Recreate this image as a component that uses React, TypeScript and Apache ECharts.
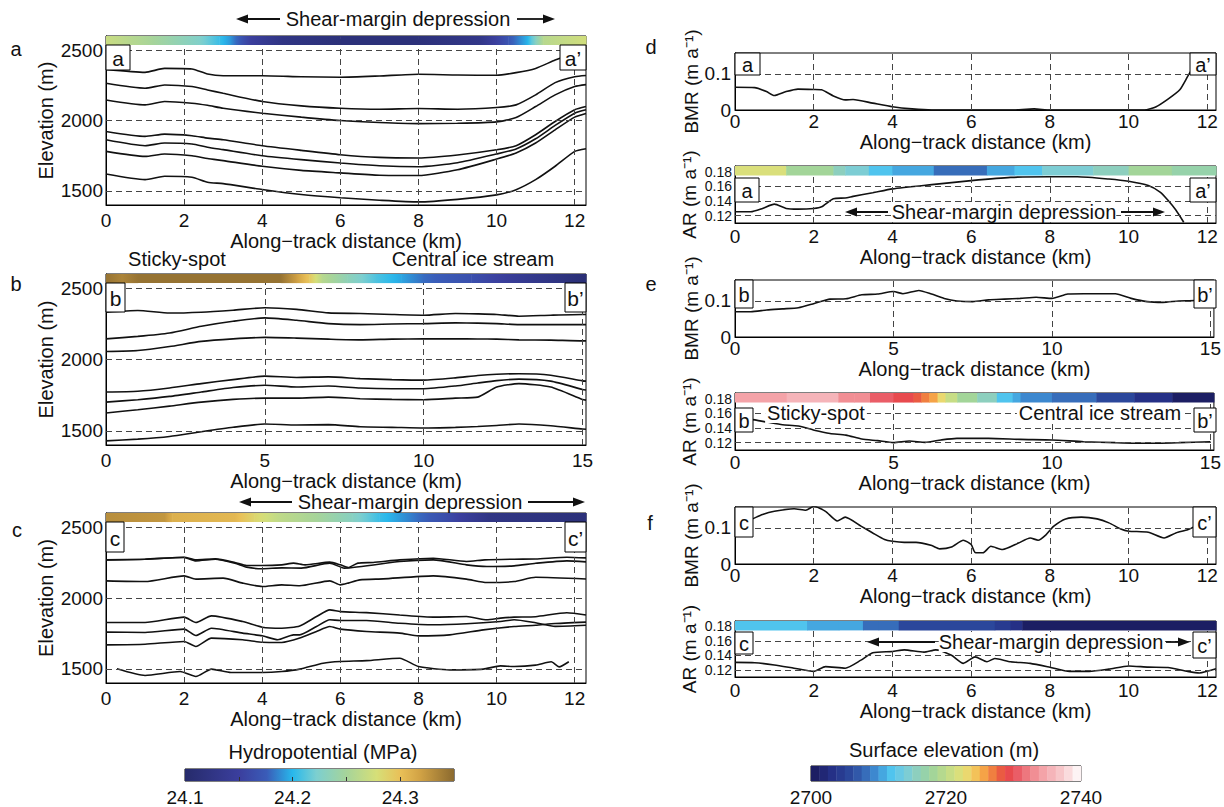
import React, { useEffect, useRef } from "react";
import * as echarts from "echarts";

const FONT = '"Liberation Sans", Arial, Helvetica, sans-serif';
const INK = "#111";

// ---------------- Panel a (elevation of layers, km / m) ----------------
const kmA = [0, 1, 1.5, 2.2, 2.6, 3, 4, 5, 6, 7, 8, 9, 10, 10.5, 11, 11.5, 12, 12.29];
const a1 = [2363, 2342, 2370, 2366, 2330, 2318, 2318, 2311, 2307, 2316, 2328, 2323, 2321, 2340, 2370, 2429, 2480, 2500];
const a2 = [2264, 2229, 2252, 2241, 2217, 2193, 2135, 2104, 2087, 2080, 2085, 2080, 2092, 2111, 2182, 2269, 2311, 2320];
const a3 = [2146, 2111, 2135, 2123, 2108, 2087, 2052, 2024, 2000, 1986, 1978, 1980, 1990, 2021, 2099, 2182, 2241, 2255];
const a4 = [1922, 1887, 1903, 1892, 1875, 1863, 1821, 1788, 1757, 1738, 1734, 1755, 1792, 1821, 1899, 1993, 2076, 2099];
const a5 = [1863, 1821, 1840, 1833, 1810, 1793, 1750, 1722, 1698, 1679, 1672, 1700, 1762, 1798, 1870, 1965, 2052, 2076];
const a6 = [1781, 1745, 1762, 1750, 1730, 1715, 1675, 1646, 1628, 1611, 1609, 1650, 1726, 1769, 1840, 1934, 2024, 2050];
const a7 = [1620, 1580, 1604, 1597, 1562, 1552, 1510, 1474, 1451, 1434, 1422, 1440, 1472, 1509, 1580, 1675, 1781, 1800];

// ---------------- Panel b ----------------
const kmB = [0, 1, 2, 3, 4, 5, 6, 7, 8, 9, 10, 11, 11.7, 12.3, 13, 14, 15, 15.11];
const b1 = [2332, 2344, 2326, 2332, 2346, 2363, 2352, 2327, 2323, 2316, 2311, 2323, 2320, 2316, 2304, 2311, 2316, 2316];
const b2 = [2145, 2162, 2186, 2233, 2268, 2292, 2275, 2252, 2245, 2249, 2252, 2257, 2255, 2252, 2245, 2245, 2245, 2245];
const b3 = [2056, 2063, 2091, 2127, 2145, 2155, 2150, 2143, 2138, 2143, 2145, 2145, 2144, 2143, 2138, 2136, 2131, 2131];
const b4 = [1772, 1777, 1800, 1831, 1859, 1883, 1874, 1878, 1866, 1859, 1855, 1871, 1888, 1897, 1900, 1890, 1850, 1848];
const b5 = [1701, 1718, 1741, 1772, 1803, 1819, 1807, 1814, 1800, 1795, 1795, 1814, 1835, 1852, 1862, 1848, 1790, 1786];
const b6 = [1625, 1647, 1673, 1701, 1720, 1729, 1729, 1736, 1725, 1720, 1718, 1729, 1736, 1807, 1831, 1807, 1720, 1715];
const b7 = [1429, 1441, 1460, 1493, 1524, 1547, 1540, 1543, 1528, 1524, 1519, 1524, 1530, 1537, 1547, 1535, 1512, 1511];

// ---------------- Panel c ----------------
const c1aKm = [0, 1, 2, 2.3, 2.8, 3.3, 3.6, 4, 4.5, 4.8, 5.1, 5.73, 6, 6.2, 6.45, 6.84, 7.52, 8.38, 9.23, 9.7, 10.45, 11, 11.8, 12.29];
const c1a = [2269, 2274, 2288, 2269, 2276, 2251, 2229, 2229, 2234, 2246, 2234, 2253, 2234, 2215, 2246, 2251, 2269, 2281, 2258, 2269, 2274, 2275, 2288, 2283];
const c1bKm = [0, 1, 2, 2.3, 2.8, 3.3, 3.6, 4, 4.5, 5, 5.73, 6.1, 7.52, 8.38, 9.23, 9.75, 10.45, 11, 11.8, 12.29];
const c1b = [2269, 2274, 2286, 2262, 2274, 2246, 2218, 2206, 2213, 2211, 2246, 2211, 2258, 2269, 2234, 2222, 2227, 2245, 2262, 2255];
const c2Km = [0, 1, 2, 2.3, 3, 3.5, 4, 4.5, 4.96, 5.73, 6, 6.2, 6.5, 7.1, 8.38, 9.23, 9.75, 10.45, 11, 12.29];
const c2 = [2121, 2116, 2156, 2133, 2140, 2105, 2081, 2093, 2086, 2121, 2093, 2105, 2128, 2135, 2156, 2133, 2109, 2116, 2146, 2134];
const c3Km = [0, 1, 2, 2.3, 2.7, 3.5, 4, 4.5, 4.96, 5.39, 5.73, 6, 6.67, 7.52, 8.38, 9.23, 9.75, 10.1, 10.45, 11, 11.8, 12.29];
const c3 = [1827, 1827, 1865, 1827, 1874, 1834, 1794, 1787, 1803, 1869, 1916, 1904, 1897, 1880, 1865, 1869, 1846, 1858, 1865, 1868, 1896, 1880];
const c4Km = [0, 1, 2, 2.3, 2.7, 3.5, 4, 4.4, 4.8, 4.96, 5.39, 5.73, 6, 6.67, 7.52, 8.38, 9.23, 10.1, 10.45, 11, 11.5, 12.29];
const c4 = [1759, 1757, 1780, 1735, 1787, 1752, 1733, 1705, 1740, 1740, 1799, 1846, 1841, 1841, 1822, 1811, 1818, 1834, 1846, 1825, 1800, 1808];
const c5Km = [0, 1, 2, 2.3, 2.7, 3.5, 4, 4.5, 4.96, 5.39, 5.73, 6, 6.67, 7.52, 8, 8.8, 9.66, 10.45, 11, 11.5, 12.29];
const c5 = [1669, 1674, 1693, 1658, 1717, 1705, 1688, 1686, 1717, 1764, 1799, 1780, 1764, 1752, 1733, 1740, 1775, 1799, 1808, 1820, 1830];
const c6Km = [0.28, 1, 1.9, 2.3, 2.7, 3.2, 4, 4.5, 4.96, 5.56, 6, 6.67, 7.52, 8, 8.8, 9.66, 10.1, 10.45, 11, 11.4, 11.6, 11.85];
const c6 = [1500, 1453, 1481, 1446, 1498, 1474, 1474, 1481, 1498, 1540, 1552, 1558, 1575, 1516, 1493, 1498, 1521, 1516, 1526, 1550, 1514, 1550];

// ---------------- Panel d (BMR / AR) ----------------
const dBmrKm = [0, 0.5, 0.8, 1, 1.3, 1.6, 2, 2.2, 2.5, 2.8, 3, 3.5, 4, 4.5, 5, 7, 7.6, 8, 10.4, 10.7, 11, 11.3, 11.5, 11.7];
const dBmr = [0.063, 0.062, 0.051, 0.04, 0.051, 0.058, 0.057, 0.056, 0.039, 0.028, 0.029, 0.019, 0.009, 0.003, 0, 0, 0.003, 0, 0, 0.009, 0.03, 0.056, 0.093, 0.13];
const dArKm = [0, 0.4, 0.7, 1, 1.3, 1.6, 2, 2.2, 2.5, 2.8, 3, 3.5, 4, 5, 6, 7, 8, 8.7, 9.5, 10, 10.5, 10.8, 11, 11.2, 11.4];
const dAr = [0.1253, 0.1253, 0.1298, 0.1356, 0.1298, 0.1289, 0.1298, 0.132, 0.1431, 0.144, 0.1462, 0.1511, 0.1564, 0.1622, 0.1676, 0.172, 0.1729, 0.1729, 0.1698, 0.1667, 0.1609, 0.152, 0.1409, 0.1276, 0.111];

// ---------------- Panel e ----------------
const eBmrKm = [0, 0.5, 1, 1.5, 2, 2.5, 3, 3.5, 4, 4.5, 5, 5.3, 5.8, 6.2, 6.6, 7, 7.5, 8, 8.5, 9, 9.5, 10, 10.5, 11, 12, 12.5, 13, 13.5, 14, 14.5, 15];
const eBmr = [0.07, 0.07, 0.075, 0.078, 0.081, 0.093, 0.105, 0.106, 0.117, 0.119, 0.126, 0.12, 0.129, 0.119, 0.107, 0.1, 0.098, 0.103, 0.105, 0.107, 0.11, 0.107, 0.119, 0.12, 0.12, 0.107, 0.098, 0.096, 0.1, 0.101, 0.107];
const eArKm = [0, 0.5, 1, 1.5, 2, 2.5, 3, 3.5, 4, 4.5, 5, 5.5, 6, 6.5, 7, 8, 9, 10, 11, 12, 13, 14, 15];
const eAr = [0.1524, 0.1516, 0.148, 0.1444, 0.1427, 0.1369, 0.1324, 0.1302, 0.1249, 0.1227, 0.12, 0.1222, 0.1204, 0.1236, 0.1258, 0.1258, 0.1244, 0.1236, 0.1213, 0.12, 0.1191, 0.12, 0.1213];

// ---------------- Panel f ----------------
const fBmrKm = [0, 0.3, 0.7, 1, 1.5, 1.8, 2, 2.3, 2.6, 2.8, 3.2, 3.5, 3.8, 4, 4.3, 4.6, 5, 5.2, 5.5, 5.8, 6, 6.1, 6.3, 6.5, 6.8, 7.2, 7.5, 7.7, 7.9, 8.1, 8.4, 8.8, 9.2, 9.5, 9.8, 10, 10.5, 10.9, 11.2, 11.5, 11.7];
const fBmr = [0.114, 0.119, 0.137, 0.146, 0.153, 0.149, 0.16, 0.146, 0.119, 0.13, 0.105, 0.086, 0.068, 0.063, 0.06, 0.06, 0.051, 0.042, 0.047, 0.066, 0.054, 0.032, 0.031, 0.049, 0.04, 0.058, 0.072, 0.066, 0.081, 0.105, 0.125, 0.13, 0.125, 0.114, 0.097, 0.091, 0.088, 0.072, 0.086, 0.095, 0.105];
const fArKm = [0, 0.5, 1, 1.5, 2, 2.3, 2.8, 3.2, 3.5, 4, 4.3, 4.8, 5.1, 5.5, 5.8, 6.1, 6.4, 6.6, 7, 7.5, 8, 8.5, 9, 9.5, 10, 10.5, 11, 11.5, 11.8, 12.22];
const fAr = [0.1302, 0.1298, 0.1267, 0.1222, 0.1178, 0.1244, 0.1222, 0.1333, 0.1436, 0.1453, 0.1476, 0.1444, 0.1476, 0.14, 0.1289, 0.1378, 0.1311, 0.1356, 0.1311, 0.1289, 0.1236, 0.1178, 0.1178, 0.1209, 0.1253, 0.1236, 0.1231, 0.1178, 0.1156, 0.1213];

// ---------------- colour strips along track ----------------
// hydropotential (MPa) along tracks a, b, c
const stripAKm = [0, 1.2, 2.4, 2.9, 3.2, 3.7, 4.5, 6, 8, 9.6, 10.3, 10.8, 11.2, 12.29];
const stripAHp = [24.27, 24.25, 24.225, 24.205, 24.19, 24.15, 24.125, 24.115, 24.115, 24.13, 24.17, 24.2, 24.26, 24.275];
const stripBKm = [0, 0.5, 1, 5.5, 6.0, 6.4, 6.8, 7.6, 8.5, 9.3, 10, 11.5, 13, 15.11];
const stripBHp = [24.345, 24.335, 24.345, 24.345, 24.32, 24.295, 24.26, 24.235, 24.21, 24.195, 24.18, 24.165, 24.14, 24.11];
const stripCKm = [0, 1.5, 1.7, 3.3, 3.8, 4.4, 5.4, 6.3, 7.0, 7.8, 8.8, 9.8, 12.29];
const stripCHp = [24.33, 24.325, 24.31, 24.305, 24.285, 24.265, 24.25, 24.23, 24.205, 24.185, 24.16, 24.125, 24.115];
// surface elevation (m) along tracks a, b, c (segment edges + value per segment)
const stripDEdges = [0, 1.3, 2.5, 2.8, 3.4, 4.0, 5.05, 6.4, 7.1, 7.8, 9.1, 10.0, 11.1, 12.22];
const stripDElev = [2721.5, 2718.5, 2716, 2714.5, 2712, 2710.5, 2707.7, 2710, 2712, 2714.5, 2716, 2717.5, 2716.5];
const stripEEdges = [0, 1.63, 3.26, 3.76, 4.26, 5.0, 5.63, 5.88, 6.13, 6.39, 6.64, 7.01, 7.64, 8.26, 8.76, 9.01, 10.0, 11.4, 12.6, 13.8, 15.11];
const stripEElev = [2734.5, 2736, 2733.5, 2732.5, 2731, 2729, 2728, 2726.5, 2725, 2723, 2721, 2718, 2715.5, 2712, 2710.5, 2709, 2707.5, 2705, 2703, 2701];
const stripFEdges = [0, 1.83, 2.64, 3.25, 3.65, 4.16, 6.6, 7.0, 7.3, 12.22];
const stripFElev = [2712, 2711, 2710, 2708.5, 2707.5, 2706, 2704.5, 2703.5, 2701];

// ---------------- colour scales ----------------
const hydroStops: [number, string][] = [
  [24.1, "#262b6b"], [24.151, "#3b3f9e"], [24.176, "#3a5cb8"], [24.2, "#28b8ec"], [24.222, "#7ccfd0"],
  [24.25, "#a6d49a"], [24.278, "#d6df78"], [24.3, "#e9c058"], [24.318, "#d2a345"], [24.35, "#8b6a2f"],
];
const hydroTicks = [24.15, 24.2, 24.25, 24.3];
const hydroLabels = [24.1, 24.2, 24.3];
const surfStops: [number, string][] = [
  [2700, "#1a1a5a"], [2703, "#252f85"], [2706, "#2c4a9e"], [2707.75, "#3565b4"], [2709.7, "#3f8fd4"],
  [2711.7, "#4cc3ef"], [2713.7, "#74cbe0"], [2715.5, "#8ccfc0"], [2717.6, "#9bd39e"], [2719.6, "#b8da8c"],
  [2721.6, "#d6e07e"], [2723.6, "#f0d66a"], [2725, "#f6b24c"], [2726.3, "#f39241"], [2727.5, "#ec6a3f"],
  [2729, "#e84646"], [2730, "#e8505a"], [2731.5, "#ec7078"], [2734, "#f39ea3"], [2737.4, "#f8cdd0"], [2740, "#ffffff"],
];
const surfBinCount = 32;
const surfLabels = [2700, 2720, 2740];

function hex2rgb(h: string) {
  const n = parseInt(h.slice(1), 16);
  return [(n >> 16) & 255, (n >> 8) & 255, n & 255];
}
function interp(stops: [number, string][], v: number) {
  if (v <= stops[0][0]) return stops[0][1];
  const last = stops[stops.length - 1];
  if (v >= last[0]) return last[1];
  for (let i = 0; i < stops.length - 1; i++) {
    const [v0, c0] = stops[i];
    const [v1, c1] = stops[i + 1];
    if (v >= v0 && v <= v1) {
      const t = (v - v0) / (v1 - v0);
      const a = hex2rgb(c0), b = hex2rgb(c1);
      const r = a.map((x, k) => Math.round(x + (b[k] - x) * t));
      return `rgb(${r[0]},${r[1]},${r[2]})`;
    }
  }
  return last[1];
}
const hydroColor = (v: number) => interp(hydroStops, v);
const surfStep = (2740 - 2700) / surfBinCount;
const surfColor = (v: number) => {
  const idx = Math.min(surfBinCount - 1, Math.max(0, Math.floor((v - 2700) / surfStep)));
  return interp(surfStops, 2700 + (idx + 0.5) * surfStep);
};

const zip = (xs: number[], ys: number[]) => xs.map((x, i) => [x, ys[i]]);

function buildOption() {
  const grids = [
    { left: 106, top: 36, width: 480, height: 169 },
    { left: 106, top: 274, width: 480, height: 171 },
    { left: 106, top: 513, width: 480, height: 170 },
    { left: 735, top: 53, width: 481, height: 57 },
    { left: 735, top: 166, width: 481, height: 57 },
    { left: 735, top: 280, width: 481, height: 57 },
    { left: 735, top: 393, width: 481, height: 57 },
    { left: 735, top: 507, width: 481, height: 57 },
    { left: 735, top: 621, width: 481, height: 56 },
    { left: 185, top: 769, width: 269, height: 15 },
    { left: 811, top: 766, width: 270, height: 15 },
  ].map((g) => ({ ...g, show: true, borderColor: "#000", borderWidth: 1, backgroundColor: "transparent" }));

  const ticks12 = [0, 2, 4, 6, 8, 10, 12];
  const ticks15 = [0, 5, 10, 15];
  const fmt = (v: number) => String(Math.round(v * 1000) / 1000);

  const xAx = (gi: number, max: number, ticks: number[], size: number, margin: number, gap: number) => ({
    type: "value", gridIndex: gi, min: 0, max,
    axisLine: { show: true, onZero: false, lineStyle: { color: "#000", width: 1 } },
    axisTick: { show: true, inside: true, length: 4, customValues: ticks, lineStyle: { color: "#000" } },
    axisLabel: { show: true, customValues: ticks, showMinLabel: true, showMaxLabel: true, fontSize: size, fontFamily: FONT, color: INK, margin, formatter: fmt },
    splitLine: { show: false },
    name: "Along\u2212track distance (km)", nameLocation: "middle", nameGap: gap,
    nameTextStyle: { fontSize: 20, fontFamily: FONT, color: INK },
  });
  const yAx = (gi: number, min: number, max: number, ticks: number[], labels: number[], size: number, margin: number, name: string, gap: number, nameSize: number, f: (v: number) => string) => ({
    type: "value", gridIndex: gi, min, max,
    axisLine: { show: true, onZero: false, lineStyle: { color: "#000", width: 1 } },
    axisTick: { show: true, inside: true, length: 4, customValues: ticks, lineStyle: { color: "#000" } },
    axisLabel: { show: true, customValues: labels, showMinLabel: true, showMaxLabel: true, fontSize: size, fontFamily: FONT, color: INK, margin, formatter: f },
    splitLine: { show: false },
    name, nameLocation: "middle", nameGap: gap,
    nameTextStyle: { fontSize: nameSize, fontFamily: FONT, color: INK },
  });
  // secondary label-only axis (the AR labels are packed tighter than one axis allows)
  const yLabelsOnly = (gi: number, min: number, max: number, labels: number[], size: number, margin: number, f: (v: number) => string) => ({
    type: "value", gridIndex: gi, min, max, position: "left",
    axisLine: { show: false }, axisTick: { show: false }, splitLine: { show: false },
    axisLabel: { show: true, customValues: labels, showMinLabel: true, showMaxLabel: true, fontSize: size, fontFamily: FONT, color: INK, margin, formatter: f },
  });

  const elevTicks = [1500, 2000, 2500];
  const bmrTicks = [0, 0.1];
  const arTicks = [0.12, 0.14, 0.16, 0.18];
  const arLabelsA = [0.12, 0.16];
  const arLabelsB = [0.14, 0.18];
  const AR_MIN = 0.11, AR_MAX = 0.1875, AR_STRIP = 0.1745;
  const BMR_MAX = 0.158;
  const EL_MIN = 1400, EL_MAX = 2600, EL_STRIP = 2536;
  const AR_FS = 14;
  const bmrName = "BMR (m a\u207B\u00B9)";
  const arName = "AR (m a\u207B\u00B9)";
  const fmtBmr = (v: number) => (v === 0 ? "0" : "0.1");
  const fmtAr = (v: number) => v.toFixed(2);

  const xAxis: any[] = [
    xAx(0, 12.29, ticks12, 19, 6, 22),
    xAx(1, 15.11, ticks15, 19, 6, 25),
    xAx(2, 12.29, ticks12, 19, 6, 24),
    xAx(3, 12.22, ticks12, 19, 2, 18),
    xAx(4, 12.22, ticks12, 19, 4, 22),
    xAx(5, 15.11, ticks15, 19, 2, 18),
    xAx(6, 15.11, ticks15, 19, 3, 23),
    xAx(7, 12.22, ticks12, 19, 2, 20),
    xAx(8, 12.22, ticks12, 19, 4, 24),
    {
      type: "value", gridIndex: 9, min: 24.1, max: 24.35, z: 5,
      axisLine: { show: false },
      axisTick: { show: true, inside: true, length: 4, customValues: hydroTicks, lineStyle: { color: "#333" } },
      axisLabel: { show: true, customValues: hydroLabels, showMinLabel: true, showMaxLabel: true, fontSize: 19, fontFamily: FONT, color: INK, margin: 7, formatter: (v: number) => v.toFixed(1) },
      splitLine: { show: false },
    },
    {
      type: "value", gridIndex: 10, min: 2700, max: 2740,
      axisLine: { show: false },
      axisTick: { show: false },
      axisLabel: { show: true, customValues: surfLabels, showMinLabel: true, showMaxLabel: true, fontSize: 19, fontFamily: FONT, color: INK, margin: 7, formatter: (v: number) => String(v) },
      splitLine: { show: false },
    },
  ];
  const yAxis: any[] = [
    yAx(0, EL_MIN, EL_MAX, elevTicks, elevTicks, 19, 3, "Elevation (m)", 50, 20, fmt),
    yAx(1, EL_MIN, EL_MAX, elevTicks, elevTicks, 19, 3, "Elevation (m)", 50, 20, fmt),
    yAx(2, EL_MIN, EL_MAX, elevTicks, elevTicks, 19, 3, "Elevation (m)", 50, 20, fmt),
    yAx(3, 0, BMR_MAX, bmrTicks, bmrTicks, 19, 4, bmrName, 32, 19, fmtBmr),
    yAx(4, AR_MIN, AR_MAX, arTicks, arLabelsA, AR_FS, 3, arName, 36, 19, fmtAr),
    yAx(5, 0, BMR_MAX, bmrTicks, bmrTicks, 19, 4, bmrName, 32, 19, fmtBmr),
    yAx(6, AR_MIN, AR_MAX, arTicks, arLabelsA, AR_FS, 3, arName, 36, 19, fmtAr),
    yAx(7, 0, BMR_MAX, bmrTicks, bmrTicks, 19, 4, bmrName, 32, 19, fmtBmr),
    yAx(8, AR_MIN, AR_MAX, arTicks, arLabelsA, AR_FS, 3, arName, 36, 19, fmtAr),
    { type: "value", gridIndex: 9, min: 0, max: 1, show: false },
    { type: "value", gridIndex: 10, min: 0, max: 1, show: false },
    yLabelsOnly(4, AR_MIN, AR_MAX, arLabelsB, AR_FS, 3, fmtAr),
    yLabelsOnly(6, AR_MIN, AR_MAX, arLabelsB, AR_FS, 3, fmtAr),
    yLabelsOnly(8, AR_MIN, AR_MAX, arLabelsB, AR_FS, 3, fmtAr),
  ];

  const series: any[] = [];
  const gridLines = (vx: number[], hy: number[]) => ({
    silent: true, symbol: ["none", "none"], label: { show: false }, animation: false,
    emphasis: { disabled: true },
    lineStyle: { type: [6, 4], color: "#444", width: 1 },
    data: [...vx.map((v) => ({ xAxis: v })), ...hy.map((v) => ({ yAxis: v }))],
  });
  const addLines = (gi: number, lines: number[][][], vx: number[], hy: number[]) => {
    lines.forEach((pts, k) => {
      const s: any = {
        type: "line", xAxisIndex: gi, yAxisIndex: gi, data: pts, symbol: "none", showSymbol: false,
        smooth: 0.2, silent: true, z: 3, clip: true,
        lineStyle: { color: INK, width: 1.6 }, emphasis: { disabled: true },
      };
      if (k === 0) s.markLine = gridLines(vx, hy);
      series.push(s);
    });
  };
  const grid12 = [2, 4, 6, 8, 10, 12];
  const grid15 = [5, 10, 15];

  addLines(0, [a1, a2, a3, a4, a5, a6, a7].map((y) => zip(kmA, y)), grid12, elevTicks);
  addLines(1, [b1, b2, b3, b4, b5, b6, b7].map((y) => zip(kmB, y)), grid15, elevTicks);
  addLines(2, [zip(c1aKm, c1a), zip(c1bKm, c1b), zip(c2Km, c2), zip(c3Km, c3), zip(c4Km, c4), zip(c5Km, c5), zip(c6Km, c6)], grid12, elevTicks);
  addLines(3, [zip(dBmrKm, dBmr)], grid12, [0.1]);
  addLines(4, [zip(dArKm, dAr)], grid12, [0.12, 0.14, 0.16]);
  addLines(5, [zip(eBmrKm, eBmr)], grid15, [0.1]);
  addLines(6, [zip(eArKm, eAr)], grid15, [0.12, 0.14, 0.16]);
  addLines(7, [zip(fBmrKm, fBmr)], grid12, [0.1]);
  addLines(8, [zip(fArKm, fAr)], grid12, [0.12, 0.14, 0.16]);

  // hydropotential strips (continuous)
  const hydroStrip = (gi: number, km: number[], hp: number[], yb: number, yt: number) => {
    const data = km.slice(0, -1).map((x, i) => [x, km[i + 1], hp[i], hp[i + 1]]);
    series.push({
      type: "custom", xAxisIndex: gi, yAxisIndex: gi, z: 6, silent: true, data,
      encode: { x: [0, 1] },
      renderItem: (_p: any, api: any) => {
        const x0 = api.value(0), x1 = api.value(1), v0 = api.value(2), v1 = api.value(3);
        const p0 = api.coord([x0, yt]);
        const p1 = api.coord([x1, yb]);
        const stops = [0, 0.25, 0.5, 0.75, 1].map((t) => ({ offset: t, color: hydroColor(v0 + (v1 - v0) * t) }));
        return {
          type: "rect",
          shape: { x: p0[0], y: p0[1], width: p1[0] - p0[0] + 0.5, height: p1[1] - p0[1] },
          style: { fill: { type: "linear", x: 0, y: 0, x2: 1, y2: 0, colorStops: stops } },
        };
      },
    });
  };
  const surfStrip = (gi: number, edges: number[], elev: number[], yb: number, yt: number) => {
    const data = elev.map((v, i) => [edges[i], edges[i + 1], v]);
    series.push({
      type: "custom", xAxisIndex: gi, yAxisIndex: gi, z: 6, silent: true, data,
      encode: { x: [0, 1] },
      renderItem: (_p: any, api: any) => {
        const p0 = api.coord([api.value(0), yt]);
        const p1 = api.coord([api.value(1), yb]);
        return {
          type: "rect",
          shape: { x: p0[0], y: p0[1], width: p1[0] - p0[0] + 0.5, height: p1[1] - p0[1] },
          style: { fill: surfColor(api.value(2)) },
        };
      },
    });
  };
  hydroStrip(0, stripAKm, stripAHp, EL_STRIP, EL_MAX);
  hydroStrip(1, stripBKm, stripBHp, EL_STRIP, EL_MAX);
  hydroStrip(2, stripCKm, stripCHp, EL_STRIP, EL_MAX);
  surfStrip(4, stripDEdges, stripDElev, AR_STRIP, AR_MAX);
  surfStrip(6, stripEEdges, stripEElev, AR_STRIP, AR_MAX);
  surfStrip(8, stripFEdges, stripFElev, AR_STRIP, AR_MAX);

  // colour-bar legends
  series.push({
    type: "custom", xAxisIndex: 9, yAxisIndex: 9, z: 2, silent: true,
    data: [[hydroStops[0][0], hydroStops[hydroStops.length - 1][0]]],
    encode: { x: [0, 1] },
    renderItem: (_p: any, api: any) => {
      const x0 = api.value(0), x1 = api.value(1);
      const p0 = api.coord([x0, 1]);
      const p1 = api.coord([x1, 0]);
      const stops = hydroStops.map(([v, c]) => ({ offset: (v - x0) / (x1 - x0), color: c }));
      return {
        type: "rect",
        shape: { x: p0[0], y: p0[1], width: p1[0] - p0[0], height: p1[1] - p0[1] },
        style: { fill: { type: "linear", x: 0, y: 0, x2: 1, y2: 0, colorStops: stops } },
      };
    },
  });
  const surfBins = Array.from({ length: surfBinCount }, (_, i) => [2700 + i * surfStep, 2700 + (i + 1) * surfStep, 2700 + (i + 0.5) * surfStep]);
  series.push({
    type: "custom", xAxisIndex: 10, yAxisIndex: 10, z: 2, silent: true, data: surfBins,
    encode: { x: [0, 1] },
    renderItem: (_p: any, api: any) => {
      const p0 = api.coord([api.value(0), 1]);
      const p1 = api.coord([api.value(1), 0]);
      return {
        type: "rect",
        shape: { x: p0[0], y: p0[1], width: p1[0] - p0[0] + 0.4, height: p1[1] - p0[1] },
        style: { fill: surfColor(api.value(2)) },
      };
    },
  });

  // ---------- annotations ----------
  const G: any[] = [];
  const txt = (text: string, x: number, y: number, size = 20, extra: any = {}) =>
    G.push({ type: "text", x, y, z: 100, silent: true, style: { text, fontSize: size, fontFamily: FONT, fill: INK, align: "center", verticalAlign: "middle", ...extra } });
  const box = (x0: number, y0: number, x1: number, y1: number, label: string, size = 21) => {
    G.push({ type: "rect", z: 100, silent: true, shape: { x: x0, y: y0, width: x1 - x0, height: y1 - y0 }, style: { fill: "#fff", stroke: "#000", lineWidth: 1 } });
    G.push({ type: "text", z: 101, silent: true, x: (x0 + x1) / 2, y: (y0 + y1) / 2 + 1, style: { text: label, fontSize: size, fontFamily: FONT, fill: INK, align: "center", verticalAlign: "middle" } });
  };
  const arrow = (xTail: number, xTip: number, y: number) => {
    const d = Math.sign(xTip - xTail);
    G.push({ type: "line", z: 100, silent: true, shape: { x1: xTail, y1: y, x2: xTip - d * 8, y2: y }, style: { stroke: INK, lineWidth: 1.8 } });
    G.push({ type: "polygon", z: 100, silent: true, shape: { points: [[xTip, y], [xTip - d * 12, y - 4.5], [xTip - d * 12, y + 4.5]] }, style: { fill: INK } });
  };

  // panel letters
  txt("a", 16, 49); txt("b", 16, 284); txt("c", 17, 530);
  txt("d", 651, 47); txt("e", 651, 284); txt("f", 650, 523);

  // top annotations (left column)
  arrow(280, 236, 19); txt("Shear-margin depression", 398, 19); arrow(517, 555, 19);
  txt("Sticky-spot", 177, 259); txt("Central ice stream", 473, 259);
  arrow(292, 239, 502); txt("Shear-margin depression", 410, 502); arrow(528, 585, 502);

  // in-plot annotations (right column)
  arrow(888, 845, 212); txt("Shear-margin depression", 1004, 212, 20, { backgroundColor: "#fff" }); arrow(1121, 1165, 212);
  txt("Sticky-spot", 816, 413, 20, { backgroundColor: "#fff", padding: [0, 2] });
  txt("Central ice stream", 1100, 413, 20, { backgroundColor: "#fff", padding: [0, 2] });
  arrow(935, 867, 642); txt("Shear-margin depression", 1051, 642, 20, { backgroundColor: "#fff" }); arrow(1166, 1190, 642);

  // section end-point boxes
  box(106, 45, 130, 70, "a"); box(560, 45, 586, 70, "a\u2019");
  box(106, 283, 125, 312, "b"); box(565, 283, 586, 312, "b\u2019");
  box(106, 522, 124, 552, "c"); box(565, 522, 586, 552, "c\u2019");
  box(735, 53, 760, 75, "a", 20); box(1190, 53, 1216, 75, "a\u2019", 20);
  box(735, 178, 759, 202, "a", 20); box(1190, 178, 1216, 202, "a\u2019", 20);
  box(735, 280, 753, 308, "b", 20); box(1194, 280, 1216, 308, "b\u2019", 20);
  box(735, 408, 753, 432, "b", 20); box(1194, 408, 1216, 432, "b\u2019", 20);
  box(735, 507, 753, 537, "c", 20); box(1193, 507, 1216, 537, "c\u2019", 20);
  box(735, 632, 753, 654, "c", 20); box(1193, 632, 1216, 658, "c\u2019", 20);

  // colour-bar titles
  txt("Hydropotential (MPa)", 323, 752);
  txt("Surface elevation (m)", 944, 750);

  return {
    animation: false,
    backgroundColor: "#fff",
    textStyle: { fontFamily: FONT },
    grid: grids,
    xAxis,
    yAxis,
    series,
    graphic: G,
  };
}

export default function App() {
  const ref = useRef<HTMLDivElement>(null);
  useEffect(() => {
    if (!ref.current) return;
    const chart = echarts.init(ref.current, null, { renderer: "svg" });
    chart.setOption(buildOption() as any);
    return () => chart.dispose();
  }, []);
  return (
    <div
      ref={ref}
      style={{ position: "absolute", left: 0, top: 0, width: 1224, height: 807, background: "#fff" }}
    />
  );
}
